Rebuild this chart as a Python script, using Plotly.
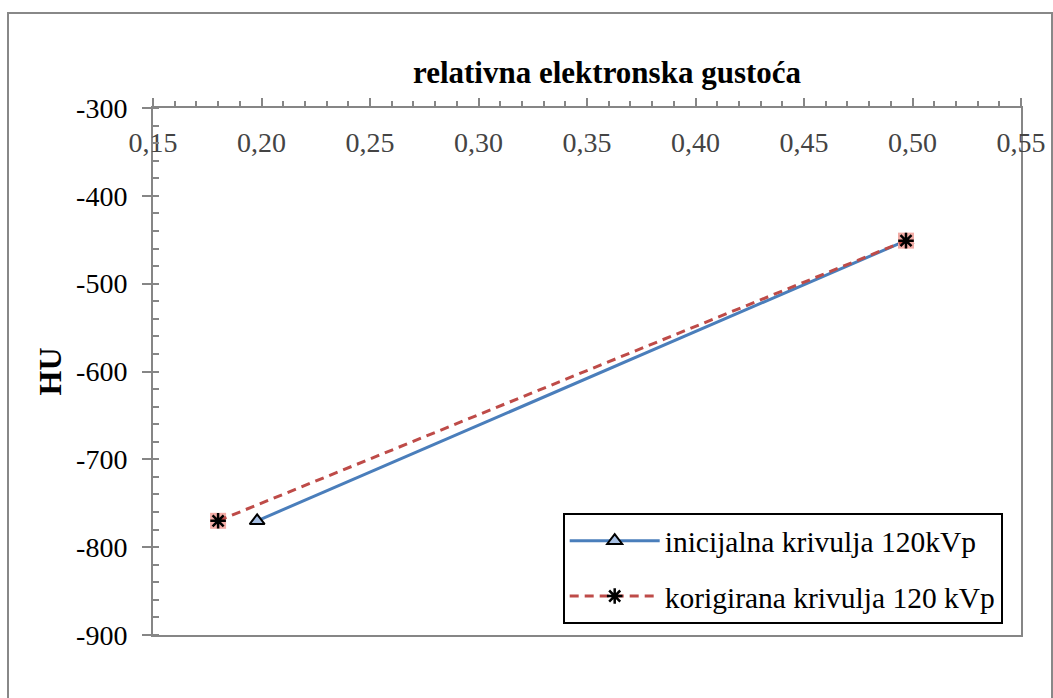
import plotly.graph_objects as go

# relative electron density vs. Hounsfield units
x_initial = [0.198, 0.497]
y_initial = [-770, -451]
x_corrected = [0.18, 0.497]
y_corrected = [-770, -451]

name_initial = "inicijalna krivulja 120kVp"
name_corrected = "korigirana krivulja 120 kVp"
title_text = "relativna elektronska gustoća"
y_title = "HU"

x_ticks = [0.15, 0.20, 0.25, 0.30, 0.35, 0.40, 0.45, 0.50, 0.55]
x_ticklabels = ["0,15", "0,20", "0,25", "0,30", "0,35", "0,40", "0,45", "0,50", "0,55"]
y_ticks = [-300, -400, -500, -600, -700, -800, -900]
y_ticklabels = ["-300", "-400", "-500", "-600", "-700", "-800", "-900"]

serif = "'Times New Roman', 'Liberation Serif', 'DejaVu Serif', serif"
axis_gray = "#868686"

fig = go.Figure()

fig.add_trace(go.Scatter(
    x=x_initial, y=y_initial, mode="lines+markers", name=name_initial,
    legendgroup="a",
    line=dict(color="#4a7ebb", width=3),
    marker=dict(symbol="triangle-up", size=13, color="#a7c0e4",
                line=dict(color="black", width=2)),
))

# pale square behind the asterisk markers
fig.add_trace(go.Scatter(
    x=x_corrected, y=y_corrected, mode="markers", showlegend=False,
    marker=dict(symbol="square", size=16, color="#f2aca6", line=dict(width=0)),
    hoverinfo="skip",
))

fig.add_trace(go.Scatter(
    x=x_corrected, y=y_corrected, mode="lines+markers", name=name_corrected,
    legendgroup="b",
    line=dict(color="#be4b48", width=3, dash="9px,6px"),
    marker=dict(symbol="asterisk-open", size=13, color="black",
                line=dict(color="black", width=2.5)),
))

fig.update_layout(
    width=1053, height=698,
    margin=dict(l=153, r=32, t=108, b=63, autoexpand=False),
    paper_bgcolor="white", plot_bgcolor="white",
    font=dict(family=serif, size=28, color="black"),
    title=dict(text="<b>" + title_text + "</b>", x=607 / 1053, xanchor="center",
               y=1 - 72 / 698, yanchor="middle", font=dict(size=31, family=serif)),
    legend=dict(x=0.472, y=0.2315, xanchor="left", yanchor="top",
                bgcolor="white", bordercolor="black", borderwidth=2,
                font=dict(size=29.5, family=serif), traceorder="grouped",
                tracegroupgap=14, itemwidth=90),
    showlegend=True,
)

fig.update_xaxes(
    range=[0.15, 0.55], side="top", automargin=False,
    tickmode="array", tickvals=x_ticks, ticktext=x_ticklabels,
    showgrid=False, zeroline=False,
    showline=True, linecolor=axis_gray, linewidth=2, mirror=True,
    ticks="outside", ticklen=8, tickwidth=2, tickcolor=axis_gray,
    ticklabelposition="inside", ticklabelstandoff=27, ticklabeloverflow="allow",
    minor=dict(dtick=0.01, tick0=0.15, ticks="outside", ticklen=5, tickwidth=2,
               tickcolor=axis_gray, showgrid=False),
    tickfont=dict(size=28, family=serif),
)

fig.update_yaxes(
    range=[-900, -300], automargin=False,
    tickmode="array", tickvals=y_ticks, ticktext=y_ticklabels,
    showgrid=False, zeroline=False,
    showline=True, linecolor=axis_gray, linewidth=2, mirror=True,
    ticks="outside", ticklen=9, tickwidth=2, tickcolor=axis_gray,
    ticklabelstandoff=9, ticklabeloverflow="allow",
    minor=dict(dtick=20, tick0=-900, ticks="inside", ticklen=6, tickwidth=2,
               tickcolor=axis_gray, showgrid=False),
    title=dict(text="<b>" + y_title + "</b>", font=dict(size=32, family=serif),
               standoff=5),
    tickfont=dict(size=28, family=serif),
)

# outer chart frame
fig.add_shape(type="rect", xref="paper", yref="paper",
              x0=(8 - 153) / 868, x1=(1052 - 153) / 868,
              y0=(635 - 700) / 527, y1=(635 - 13) / 527,
              line=dict(color="#888888", width=2), layer="below")

fig.write_html("out.html")
